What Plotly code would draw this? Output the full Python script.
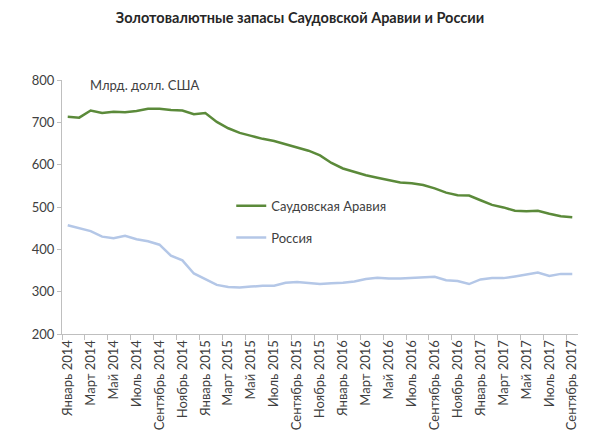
import plotly.graph_objects as go

months_ru = ["Январь", "Февраль", "Март", "Апрель", "Май", "Июнь", "Июль",
             "Август", "Сентябрь", "Октябрь", "Ноябрь", "Декабрь"]
years = [2014, 2015, 2016, 2017]
categories = [f"{m} {y}" for y in years for m in months_ru][:45]

saudi = [713, 711, 728, 722, 725, 724, 727, 732, 732, 729, 728, 719,
         722, 701, 686, 675, 668, 661, 656, 648, 640, 633, 622, 604,
         591, 583, 575, 569, 563, 558, 556, 552, 544, 534, 528, 527,
         516, 505, 499, 491, 490, 491, 484, 478, 476]
russia = [457, 450, 443, 430, 426, 432, 424, 419, 411, 385, 374, 343,
          330, 316, 311, 310, 312, 314, 314, 321, 323, 320, 318, 320,
          321, 324, 330, 333, 331, 331, 332, 333, 335, 327, 325, 318,
          329, 332, 332, 336, 340, 345, 337, 342, 342]

x_idx = list(range(len(categories)))
tick_idx = x_idx[::2]
tick_text = [categories[i] for i in tick_idx]
boundaries = [i - 0.5 for i in x_idx[::2]]

FONT = "Lato, 'Open Sans', sans-serif"
TXT = "#404040"
AX = "#bfbfbf"

fig = go.Figure()
fig.add_trace(go.Scatter(x=x_idx, y=saudi, mode="lines", name="Саудовская Аравия",
                         line=dict(color="#5b8a3a", width=2.5), legend="legend",
                         showlegend=True))
fig.add_trace(go.Scatter(x=x_idx, y=russia, mode="lines", name="Россия",
                         line=dict(color="#b4c7e7", width=2.5), legend="legend2",
                         showlegend=True))

leg_common = dict(bgcolor="rgba(0,0,0,0)", font=dict(family=FONT, size=13, color=TXT),
                  xanchor="left", yanchor="middle", itemwidth=30, visible=True)
fig.update_layout(
    width=600, height=442,
    margin=dict(l=62, r=22, t=80, b=104),
    paper_bgcolor="white", plot_bgcolor="white",
    showlegend=True,
    title=dict(text="<b>Золотовалютные запасы Саудовской Аравии и России</b>",
               x=0.5, xanchor="center", y=1 - 18 / 442, yanchor="middle",
               font=dict(family=FONT, size=14.5, color="#262626")),
    font=dict(family=FONT, color=TXT),
    legend=dict(x=0.328, y=0.505, **leg_common),
    legend2=dict(x=0.328, y=0.38, **leg_common),
    xaxis=dict(range=[-0.5, len(categories) - 0.5], tickmode="array",
               tickvals=tick_idx, ticktext=tick_text, tickangle=-90,
               ticks="", showline=True, linecolor=AX, linewidth=1,
               showgrid=False, zeroline=False,
               tickfont=dict(family=FONT, size=13, color=TXT),
               minor=dict(tickmode="array", tickvals=boundaries, ticks="outside",
                          ticklen=5, tickcolor=AX, showgrid=False)),
    yaxis=dict(range=[200, 800], dtick=100, ticks="outside", ticklen=4,
               tickcolor=AX, showline=True, linecolor=AX, linewidth=1,
               showgrid=False, zeroline=False,
               tickfont=dict(family=FONT, size=13, color=TXT)),
    annotations=[dict(text="Млрд. долл. США", xref="paper", yref="paper",
                      x=0.05, y=0.98, xanchor="left", yanchor="middle",
                      showarrow=False, font=dict(family=FONT, size=13, color=TXT))],
)

fig.write_html("out.html")
